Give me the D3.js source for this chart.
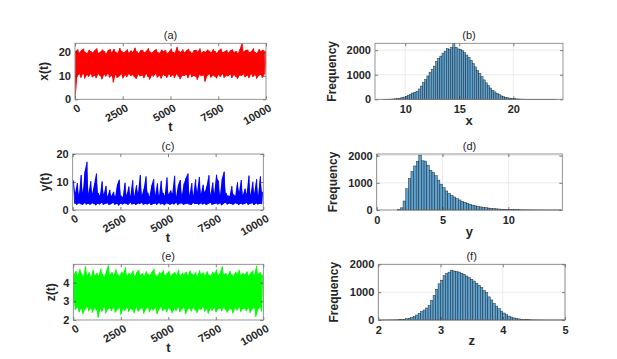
<!DOCTYPE html>
<html>
<head>
<meta charset="utf-8">
<script src="https://cdn.jsdelivr.net/npm/d3@7/dist/d3.min.js"></script>
<style>
body { margin: 0; background: #fff; }
text { font-family: "Liberation Sans", Arial, sans-serif; }
</style>
</head>
<body>
<svg id="chart" width="617" height="359"></svg>
<script>
// time series: lows at t = 0,100,...,9900 and highs at t = 50,150,...,9950
var tTicks = [0, 2500, 5000, 7500, 10000];

var loA = [0.3, 9.8, 10.6, 9.2, 10.9, 8.8, 10.3, 9.6, 10.8, 9.4,
    10.1, 9.0, 10.7, 9.9, 8.5, 10.4, 9.7, 10.9, 9.3, 10.0,
    7.2, 10.5, 9.1, 9.8, 10.6, 8.9, 10.2, 9.5, 10.8, 9.9,
    10.3, 9.4, 8.7, 10.6, 9.8, 10.1, 9.0, 10.7, 9.6, 8.4,
    10.2, 9.7, 10.9, 9.3, 10.0, 8.8, 10.5, 9.9, 9.2, 10.6,
    9.5, 10.3, 9.1, 10.8, 9.7, 8.6, 10.1, 9.9, 10.4, 9.0,
    10.7, 9.4, 10.0, 9.6, 8.3, 10.5, 9.8, 10.2, 7.5, 9.9,
    10.6, 9.3, 10.1, 9.7, 8.9, 10.4, 9.5, 10.8, 9.2, 10.0,
    9.8, 10.5, 9.1, 10.3, 9.6, 8.7, 10.2, 9.9, 10.6, 9.4,
    10.1, 9.0, 10.7, 9.5, 10.3, 8.8, 9.9, 10.4, 9.2, 10.6];
var hiA = [20.5, 21.2, 19.8, 20.9, 21.5, 20.1, 19.6, 21.0, 20.4, 19.9,
    20.8, 21.6, 19.7, 20.2, 21.1, 20.5, 19.4, 20.9, 21.3, 20.0,
    21.4, 20.2, 19.5, 21.8, 20.6, 19.9, 20.3, 21.2, 19.8, 20.7,
    20.1, 21.9, 20.4, 19.6, 20.8, 21.0, 19.9, 20.5, 21.7, 20.2,
    19.8, 20.6, 21.3, 20.0, 19.7, 21.1, 20.4, 20.9, 19.5, 20.3,
    21.5, 20.1, 19.8, 22.2, 20.6, 20.0, 21.2, 19.9, 20.7, 21.4,
    20.3, 19.6, 20.9, 21.0, 20.2, 21.6, 19.8, 20.5, 20.1, 21.1,
    20.6, 19.9, 21.3, 20.4, 19.7, 20.8, 21.5, 20.0, 20.3, 21.0,
    19.8, 20.7, 21.2, 20.1, 20.5, 19.6, 21.4, 23.8, 20.2, 20.9,
    21.1, 19.9, 20.4, 21.6, 20.0, 19.7, 21.3, 20.5, 21.0, 20.6];

var loC = [9.5, 2.3, 1.9, 2.4, 2.1, 1.8, 2.5, 2.0, 2.2, 1.9,
    2.4, 2.1, 1.7, 2.3, 2.0, 2.6, 1.9, 2.2, 2.4, 1.8,
    2.1, 2.5, 1.9, 2.2, 1.6, 2.3, 2.0, 2.4, 2.1, 1.9,
    2.6, 2.0, 2.2, 1.8, 2.3, 2.1, 2.5, 1.9, 2.2, 2.0,
    2.4, 1.8, 2.1, 2.3, 1.9, 2.5, 2.0, 2.2, 1.7, 2.4,
    2.1, 1.9, 2.3, 2.0, 2.6, 1.8, 2.2, 2.4, 1.9, 2.1,
    2.3, 2.0, 1.8, 2.5, 2.1, 2.2, 1.9, 2.4, 2.0, 2.3,
    1.8, 2.2, 2.5, 1.9, 2.1, 2.3, 2.0, 2.4, 1.7, 2.2,
    2.6, 2.0, 2.3, 2.1, 1.9, 2.4, 2.2, 1.8, 2.3, 2.0,
    2.1, 2.5, 1.9, 2.2, 2.4, 1.8, 2.3, 2.0, 2.2, 2.1];
var hiC = [10.5, 6.2, 9.6, 5.4, 12.5, 6.1, 13.7, 17.2, 5.8, 10.3,
    5.9, 9.4, 13.0, 6.1, 5.2, 10.2, 5.5, 8.6, 4.8, 7.2,
    5.0, 6.5, 4.7, 9.0, 10.8, 5.1, 4.6, 9.7, 5.3, 8.4,
    5.0, 10.6, 4.9, 8.8, 6.1, 12.5, 5.3, 7.6, 12.0, 6.2,
    4.8, 8.7, 11.0, 5.4, 9.5, 4.9, 10.4, 6.1, 5.2, 11.6,
    5.5, 7.0, 5.9, 12.2, 4.8, 8.9, 10.7, 5.3, 9.4, 11.3,
    13.0, 5.2, 9.6, 5.1, 10.9, 6.4, 11.8, 5.7, 9.0, 6.3,
    8.6, 12.4, 5.4, 9.8, 6.0, 12.6, 10.5, 5.3, 11.2, 13.7,
    6.1, 5.2, 4.8, 8.5, 5.6, 5.0, 9.9, 6.4, 10.7, 5.3,
    7.6, 5.8, 12.3, 5.3, 10.1, 6.0, 11.0, 5.2, 12.0, 6.5];

var loE = [3.0, 2.55, 2.68, 2.42, 2.61, 2.33, 2.58, 2.70, 2.47, 2.64,
    2.39, 2.66, 2.52, 2.12, 2.60, 2.45, 2.71, 2.36, 2.57, 2.63,
    2.48, 2.69, 2.40, 2.55, 2.65, 2.29, 2.59, 2.50, 2.67, 2.43,
    2.62, 2.53, 2.38, 2.70, 2.46, 2.58, 2.64, 2.35, 2.56, 2.68,
    2.44, 2.61, 2.51, 2.66, 2.32, 2.57, 2.69, 2.48, 2.60, 2.41,
    2.65, 2.54, 2.37, 2.62, 2.49, 2.70, 2.43, 2.58, 2.66, 2.31,
    2.56, 2.63, 2.46, 2.68, 2.52, 2.39, 2.61, 2.55, 2.70, 2.45,
    2.59, 2.34, 2.64, 2.50, 2.67, 2.42, 2.57, 2.63, 2.47, 2.69,
    2.53, 2.40, 2.62, 2.56, 2.36, 2.65, 2.51, 2.68, 2.44, 2.59,
    2.61, 2.48, 2.66, 2.38, 2.57, 2.64, 2.18, 2.55, 2.69, 2.46];
var hiE = [4.45, 4.62, 4.38, 4.71, 4.50, 4.33, 4.88, 4.41, 4.56, 4.29,
    4.67, 4.40, 4.52, 4.36, 4.74, 4.47, 4.31, 4.60, 4.92, 4.43,
    4.55, 4.38, 4.70, 4.46, 4.34, 4.58, 4.49, 4.81, 4.37, 4.52,
    4.44, 4.63, 4.32, 4.55, 4.68, 4.40, 4.51, 4.35, 4.60, 4.46,
    4.39, 4.57, 4.72, 4.42, 4.33, 4.54, 4.48, 4.65, 4.38, 4.50,
    4.61, 4.36, 4.47, 4.56, 4.41, 4.69, 4.34, 4.52, 4.45, 4.58,
    4.37, 4.63, 4.49, 4.40, 4.55, 4.32, 4.66, 4.46, 4.53, 4.39,
    4.60, 4.44, 4.35, 4.57, 4.48, 4.70, 4.41, 4.54, 4.87, 4.43,
    4.50, 4.36, 4.62, 4.45, 4.33, 4.58, 4.47, 4.68, 4.39, 4.52,
    4.44, 4.59, 4.37, 4.51, 4.64, 4.40, 4.90, 4.46, 4.55, 4.42];

// histogram counts (bin width 0.2 from 8, 0.2 from 0, 0.04 from 2)
var countsX = [2, 3, 5, 8, 12, 20, 30, 45, 65, 90,
    120, 160, 210, 255, 290, 330, 420, 540, 680, 800,
    950, 1090, 1220, 1350, 1540, 1660, 1760, 1880, 1960, 2060,
    2040, 2110, 2270, 2120, 2050, 2040, 1980, 1900, 1800, 1700,
    1580, 1450, 1320, 1180, 1050, 920, 790, 670, 560, 460,
    370, 300, 240, 185, 140, 105, 80, 60, 45, 32,
    24, 17, 12, 8, 6, 4, 3, 2, 2, 1,
    1, 1, 1, 1, 1, 1, 1, 1, 1, 1];
var countsY = [0, 0, 0, 0, 0, 0, 0, 0, 15, 80,
    330, 780, 1150, 1420, 1620, 1790, 2020, 1810, 1800, 1650,
    1450, 1380, 1260, 1100, 950, 820, 700, 610, 540, 480,
    420, 370, 320, 280, 240, 210, 180, 155, 130, 115,
    100, 85, 72, 60, 50, 42, 36, 30, 25, 20,
    17, 14, 12, 10, 8, 7, 6, 5, 4, 3,
    2, 2, 2, 1, 1, 1, 1, 1, 1, 1];
var countsZ = [1, 1, 2, 2, 3, 4, 6, 8,
    12, 18, 28, 45, 65, 90, 130, 180, 240, 300, 360, 430, 520, 700, 880, 1100, 1300,
    1430, 1590, 1660, 1720, 1790, 1760, 1740, 1720, 1680, 1640, 1580, 1520, 1460, 1400,
    1320, 1250, 1160, 1060, 980, 830, 720, 600, 500, 410, 320,
    250, 190, 140, 105, 75, 55, 40, 28, 20, 14, 10, 7, 5,
    4, 3, 2, 2, 1, 1, 1, 1, 1, 1, 1, 1];

var freqTicks = [0, 1000, 2000];

var svg = d3.select('#chart');
var INK = '#262626';

function styleAxis(g) {
    g.select('.domain').remove();
    g.selectAll('.tick line').attr('stroke', INK).attr('stroke-width', 0.6);
    g.selectAll('.tick text')
        .attr('fill', INK)
        .style('font-size', '11px')
        .style('font-weight', 'bold');
}

// axes box, ticks, labels common to every panel
function frame(p, x, y, xTickVals, yTickVals, rotate, grid) {
    var w = p.right - p.left, h = p.bottom - p.top;
    var g = svg.append('g').attr('transform', 'translate(' + p.left + ',' + p.top + ')');

    if (grid) {
        g.selectAll('.gx').data(xTickVals).enter().append('line')
            .attr('x1', function(d) { return x(d); }).attr('x2', function(d) { return x(d); })
            .attr('y1', 0).attr('y2', h)
            .attr('stroke', '#e3e3e3').attr('stroke-width', 0.7);
        g.selectAll('.gy').data(yTickVals).enter().append('line')
            .attr('y1', function(d) { return y(d); }).attr('y2', function(d) { return y(d); })
            .attr('x1', 0).attr('x2', w)
            .attr('stroke', '#e3e3e3').attr('stroke-width', 0.7);
    }

    var plot = g.append('g');

    var bottom = g.append('g').attr('transform', 'translate(0,' + h + ')')
        .call(d3.axisBottom(x).tickValues(xTickVals).tickSize(-3).tickPadding(6)
            .tickFormat(d3.format('d')));
    styleAxis(bottom);
    if (rotate) {
        bottom.selectAll('.tick text')
            .attr('text-anchor', 'end')
            .attr('y', 0)
            .attr('dy', '0.71em')
            .attr('transform', 'translate(2,4) rotate(-30)');
    }
    var left = g.append('g')
        .call(d3.axisLeft(y).tickValues(yTickVals).tickSize(-3).tickPadding(4)
            .tickFormat(d3.format('d')));
    styleAxis(left);
    var top = g.append('g')
        .call(d3.axisTop(x).tickValues(xTickVals).tickSize(-3).tickFormat(''));
    styleAxis(top);
    var right = g.append('g').attr('transform', 'translate(' + w + ',0)')
        .call(d3.axisRight(y).tickValues(yTickVals).tickSize(-3).tickFormat(''));
    styleAxis(right);

    g.append('rect')
        .attr('x', 0).attr('y', 0).attr('width', w).attr('height', h)
        .attr('fill', 'none').attr('stroke', '#7a7a7a').attr('stroke-width', 0.8);

    // title
    g.append('text')
        .attr('x', w / 2).attr('y', -4.5)
        .attr('text-anchor', 'middle')
        .attr('fill', INK)
        .style('font-size', '11px')
        .text(p.title);

    // x label
    g.append('text')
        .attr('x', w / 2).attr('y', h + p.xlabelDy)
        .attr('text-anchor', 'middle')
        .attr('fill', INK)
        .style('font-size', '13px').style('font-weight', 'bold')
        .text(p.xlabel);

    // y label
    svg.append('text')
        .attr('transform', 'translate(' + p.ylabelX + ',' + (p.top + h / 2) + ') rotate(-90)')
        .attr('text-anchor', 'middle')
        .attr('fill', INK)
        .style('font-size', '12px').style('font-weight', 'bold')
        .text(p.ylabel);

    return plot;
}

function drawSeries(p) {
    var w = p.right - p.left, h = p.bottom - p.top;
    var x = d3.scaleLinear().domain([0, 10000]).range([0, w]);
    var y = d3.scaleLinear().domain(p.yDomain).range([h, 0]);
    var plot = frame(p, x, y, tTicks, p.yTicks, true, false);

    var pts = [];
    var band = [];
    for (var i = 0; i < p.lo.length; i++) {
        pts.push({ t: i * 100, v: p.lo[i] });
        pts.push({ t: i * 100 + 50, v: p.hi[i] });
        band.push({ t: i * 100 + 25, lo: p.lo[i], hi: p.hi[i] });
    }
    pts.push({ t: 10000, v: p.lo[p.lo.length - 1] });

    var clipId = 'clip-' + p.title.replace(/[()]/g, '');
    svg.append('clipPath').attr('id', clipId)
        .append('rect').attr('x', 0).attr('y', 0).attr('width', w).attr('height', h);

    // dense core of the trace
    var area = d3.area()
        .x(function(d) { return x(d.t); })
        .y0(function(d) { return y(d.lo); })
        .y1(function(d) { return y(d.hi); });
    plot.append('path')
        .attr('clip-path', 'url(#' + clipId + ')')
        .attr('d', area(band))
        .attr('fill', p.color);

    var line = d3.line()
        .x(function(d) { return x(d.t); })
        .y(function(d) { return y(d.v); });
    plot.append('path')
        .attr('clip-path', 'url(#' + clipId + ')')
        .attr('d', line(pts))
        .attr('fill', 'none')
        .attr('stroke', p.color)
        .attr('stroke-width', 0.8)
        .attr('stroke-linejoin', 'round');
}

function drawHist(p) {
    var w = p.right - p.left, h = p.bottom - p.top;
    var x = d3.scaleLinear().domain(p.xDomain).range([0, w]);
    var y = d3.scaleLinear().domain(p.yDomain).range([h, 0]);
    var plot = frame(p, x, y, p.xTicks, freqTicks, false, true);

    var bins = p.counts.map(function(c, i) {
        return { x0: p.binStart + i * p.binWidth, x1: p.binStart + (i + 1) * p.binWidth, n: c };
    });
    plot.selectAll('rect').data(bins).enter().append('rect')
        .attr('x', function(d) { return x(d.x0); })
        .attr('width', function(d) { return x(d.x1) - x(d.x0); })
        .attr('y', function(d) { return y(d.n); })
        .attr('height', function(d) { return h - y(d.n); })
        .attr('fill', '#5aa3d4')
        .attr('stroke', '#1c1c1c')
        .attr('stroke-width', 0.45);
}

drawSeries({ title: '(a)', left: 75, top: 43.3, right: 266, bottom: 99.3,
    lo: loA, hi: hiA, color: '#ff0000', yDomain: [0, 23.8], yTicks: [0, 10, 20],
    xlabel: 't', xlabelDy: 32, ylabel: 'x(t)', ylabelX: 48 });
drawSeries({ title: '(c)', left: 72.7, top: 154, right: 263.3, bottom: 210,
    lo: loC, hi: hiC, color: '#0000ff', yDomain: [0, 20], yTicks: [0, 10, 20],
    xlabel: 't', xlabelDy: 32, ylabel: 'y(t)', ylabelX: 48.5 });
drawSeries({ title: '(e)', left: 73.3, top: 264.3, right: 263.3, bottom: 320,
    lo: loE, hi: hiE, color: '#00ff00', yDomain: [2, 4.98], yTicks: [2, 3, 4],
    xlabel: 't', xlabelDy: 32, ylabel: 'z(t)', ylabelX: 55 });

drawHist({ title: '(b)', left: 375, top: 43.3, right: 563, bottom: 99.3,
    xDomain: [7.2, 24.6], yDomain: [0, 2280], xTicks: [10, 15, 20],
    counts: countsX, binStart: 8, binWidth: 0.2,
    xlabel: 'x', xlabelDy: 25.5, ylabel: 'Frequency', ylabelX: 335.5 });
drawHist({ title: '(d)', left: 376.7, top: 154, right: 562.3, bottom: 210,
    xDomain: [0, 14.1], yDomain: [0, 2060], xTicks: [0, 5, 10],
    counts: countsY, binStart: 0, binWidth: 0.2,
    xlabel: 'y', xlabelDy: 25.5, ylabel: 'Frequency', ylabelX: 336.5 });
drawHist({ title: '(f)', left: 378.3, top: 264.3, right: 565, bottom: 320,
    xDomain: [2, 5], yDomain: [0, 2000], xTicks: [2, 3, 4, 5],
    counts: countsZ, binStart: 2, binWidth: 0.04,
    xlabel: 'z', xlabelDy: 25.5, ylabel: 'Frequency', ylabelX: 338 });
</script>
</body>
</html>
